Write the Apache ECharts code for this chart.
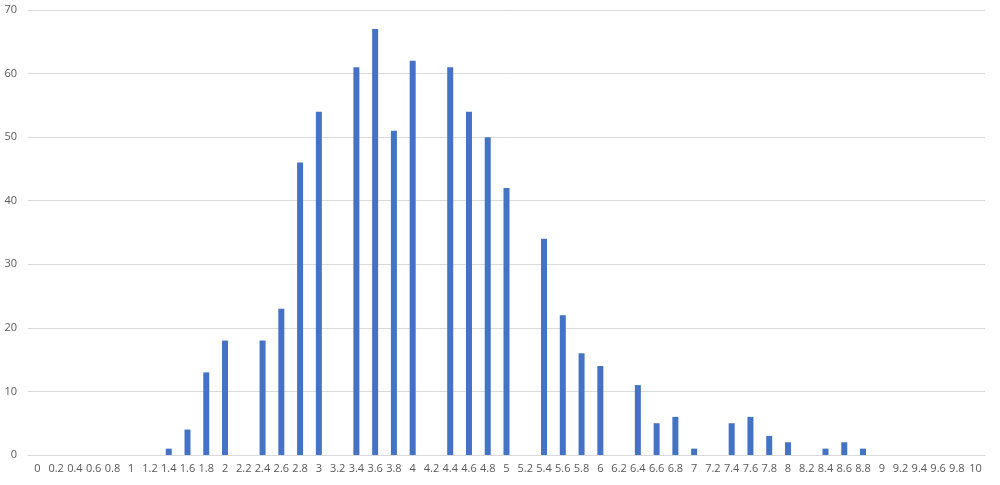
<!DOCTYPE html>
<html>
<head>
<meta charset="utf-8">
<script src="https://cdn.jsdelivr.net/npm/echarts@6/dist/echarts.min.js"></script>
<style>
  html, body { margin: 0; padding: 0; background: #fff; }
  #chart { width: 1000px; height: 485px; }
</style>
</head>
<body>
<div id="chart"></div>
<script>
// 0 ~ 10，步长 0.2
var categories = ['0', '0.2', '0.4', '0.6', '0.8', '1', '1.2', '1.4', '1.6', '1.8',
  '2', '2.2', '2.4', '2.6', '2.8', '3', '3.2', '3.4', '3.6', '3.8',
  '4', '4.2', '4.4', '4.6', '4.8', '5', '5.2', '5.4', '5.6', '5.8',
  '6', '6.2', '6.4', '6.6', '6.8', '7', '7.2', '7.4', '7.6', '7.8',
  '8', '8.2', '8.4', '8.6', '8.8', '9', '9.2', '9.4', '9.6', '9.8', '10']

var counts = [0, 0, 0, 0, 0, 0, 0, 1, 4, 13,
  18, 0, 18, 23, 46, 54, 0, 61, 67, 51,
  62, 0, 61, 54, 50, 42, 0, 34, 22, 16,
  14, 0, 11, 5, 6, 1, 0, 5, 6, 3,
  2, 0, 1, 2, 1, 0, 0, 0, 0, 0, 0]

var yTicks = { min: 0, max: 70, interval: 10 }

var chart = echarts.init(document.getElementById('chart'))
chart.setOption({
  animation: false,
  grid: {
    left: 28,
    right: 15,
    top: 10,
    bottom: 30
  },
  xAxis: {
    type: 'category',
    data: categories,
    axisLine: { show: true, lineStyle: { color: '#d9d9d9' } },
    axisTick: { show: false },
    axisLabel: {
      interval: 0,
      color: '#595959',
      fontSize: 11,
      fontFamily: 'Open Sans',
      margin: 8
    }
  },
  yAxis: {
    type: 'value',
    min: yTicks.min,
    max: yTicks.max,
    interval: yTicks.interval,
    axisLine: { show: false },
    axisTick: { show: false },
    axisLabel: {
      color: '#595959',
      fontSize: 11,
      fontFamily: 'Open Sans',
      margin: 11
    },
    splitLine: { lineStyle: { color: '#d9d9d9' } }
  },
  series: [
    {
      type: 'bar',
      data: counts,
      barWidth: 6,
      itemStyle: {
        color: '#4472c4'
      }
    }
  ]
})
</script>
</body>
</html>
